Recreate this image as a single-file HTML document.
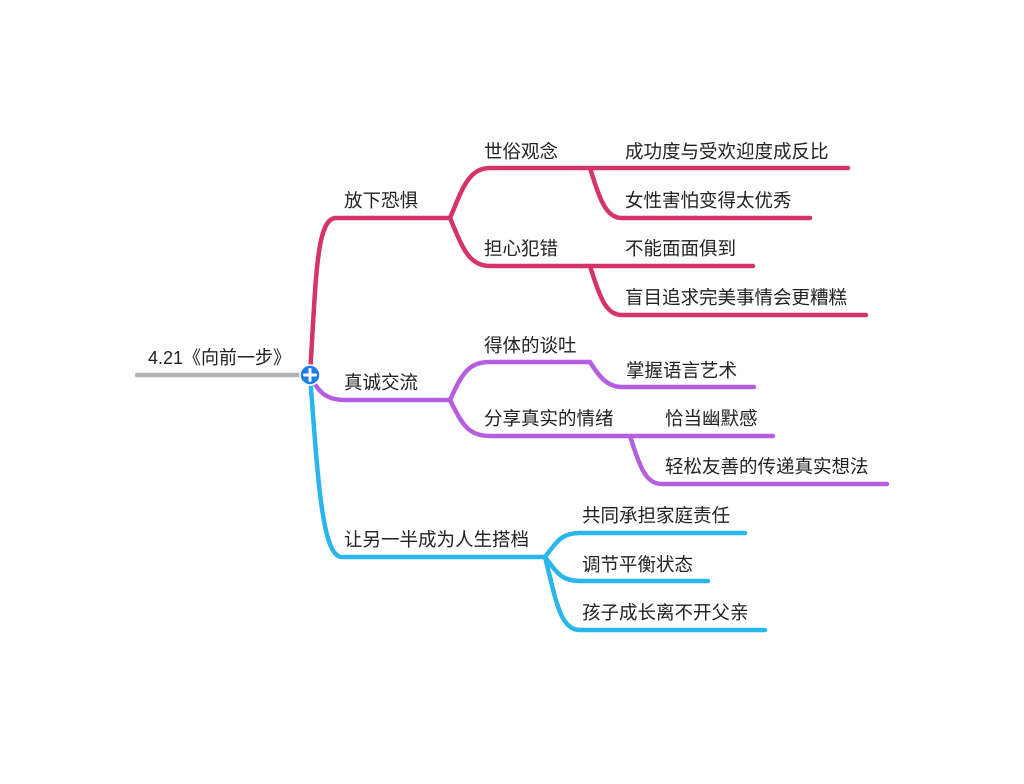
<!DOCTYPE html>
<html><head><meta charset="utf-8"><style>
html,body{margin:0;padding:0;background:#fff;}
svg{display:block;}
text{font-family:"Liberation Sans","Noto Sans CJK SC",sans-serif;font-size:18.5px;fill:#222;}
</style></head><body>
<svg width="1024" height="784" viewBox="0 0 1024 784" xmlns="http://www.w3.org/2000/svg">
<g fill="none" stroke-linecap="round" stroke-width="4.5">
<path d="M137 375 H310" stroke="#b3b3b3"/>
<g stroke="#d6336c">
<path d="M310 375 C316 280 316 218 336 218 H450"/>
<path d="M450 218 C462 190 468 168 490 168 H848"/>
<path d="M590 168 C600 200 606 218 622 218 H810"/>
<path d="M450 218 C462 246 468 266 490 266 H753"/>
<path d="M590 266 C600 298 606 315 622 315 H866"/>
</g>
<g stroke="#b55ee0">
<path d="M310 375 C318 392 326 400 345 400 H450"/>
<path d="M450 400 C462 374 468 362 490 362 H590"/>
<path d="M590 362 C600 378 608 387 622 387 H754"/>
<path d="M450 400 C462 424 468 436 490 436 H773"/>
<path d="M630 436 C640 468 646 484 662 484 H887"/>
</g>
<g stroke="#29b6ec">
<path d="M310 375 C318 480 322 557 342 557 H545"/>
<path d="M545 557 C558 540 562 533 580 533 H745"/>
<path d="M545 557 C558 574 562 581 580 581 H708"/>
<path d="M545 557 C556 600 560 630 580 630 H765"/>
</g>
</g>
<circle cx="310" cy="375" r="10" fill="#1c7ee6" stroke="#fff" stroke-width="1.5"/>
<path d="M304.5 375 H315.5 M310 369.5 V380.5" stroke="#fff" stroke-width="3" stroke-linecap="round"/>

<text x="148" y="364" textLength="143" lengthAdjust="spacingAndGlyphs">4.21《向前一步》</text>
<text x="344" y="207">放下恐惧</text>
<text x="484" y="158">世俗观念</text>
<text x="625" y="158">成功度与受欢迎度成反比</text>
<text x="625" y="207">女性害怕变得太优秀</text>
<text x="484" y="255">担心犯错</text>
<text x="625" y="255">不能面面俱到</text>
<text x="625" y="304">盲目追求完美事情会更糟糕</text>

<text x="344" y="389">真诚交流</text>
<text x="484" y="352">得体的谈吐</text>
<text x="626" y="377">掌握语言艺术</text>
<text x="484" y="425">分享真实的情绪</text>
<text x="665" y="425">恰当幽默感</text>
<text x="665" y="473">轻松友善的传递真实想法</text>

<text x="344" y="546">让另一半成为人生搭档</text>
<text x="582" y="522">共同承担家庭责任</text>
<text x="582" y="571">调节平衡状态</text>
<text x="582" y="619">孩子成长离不开父亲</text>
</svg>
</body></html>
